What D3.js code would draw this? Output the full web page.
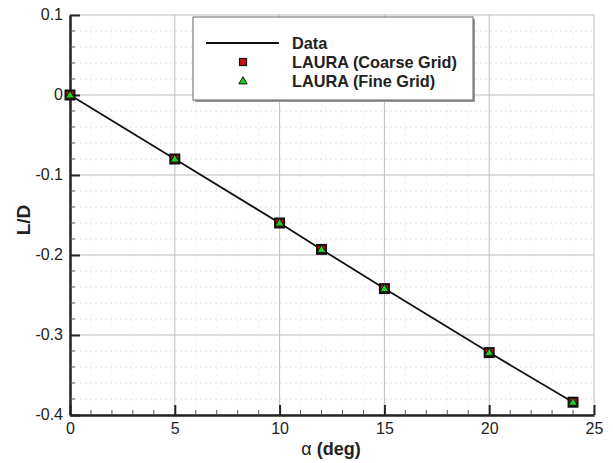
<!DOCTYPE html>
<html><head><meta charset="utf-8">
<script src="https://cdn.jsdelivr.net/npm/d3@7"></script>
<style>body{margin:0;background:#fff}</style>
</head><body>
<svg id="c" width="613" height="463"></svg>
<script>
const alpha = [0, 5, 10, 12, 15, 20, 24];
const ldData = [0, -0.08, -0.16, -0.193, -0.242, -0.322, -0.384];
const coarseLD = [0, -0.08, -0.16, -0.193, -0.242, -0.322, -0.384];
const fineLD = [0, -0.08, -0.16, -0.193, -0.242, -0.322, -0.384];
const xTicks = [0, 5, 10, 15, 20, 25];
const yTicks = [0.1, 0, -0.1, -0.2, -0.3, -0.4];
const yTickLabels = ["0.1", "0", "-0.1", "-0.2", "-0.3", "-0.4"];
const legendLabels = ["Data", "LAURA (Coarse Grid)", "LAURA (Fine Grid)"];

const svg = d3.select("#c");
const L = 70, R = 594, T = 15, B = 415;
const x = d3.scaleLinear().domain([0, 25]).range([L, R]);
const y = d3.scaleLinear().domain([-0.4, 0.1]).range([B, T]);
const font = "Liberation Sans, Arial, sans-serif";

// minor grid (dotted)
const xMinor = d3.range(0, 25.01, 1).filter(v => v % 5 !== 0);
const yMinor = d3.range(-0.4, 0.1001, 0.02).map(v => +v.toFixed(2)).filter(v => Math.abs(Math.round(v*10) - v*10) > 1e-6);
svg.append("g").selectAll("line").data(xMinor).join("line")
  .attr("x1", d => x(d)).attr("x2", d => x(d)).attr("y1", T).attr("y2", B)
  .attr("stroke", "#e2e2e2").attr("stroke-width", 1).attr("stroke-dasharray", "1,5");
svg.append("g").selectAll("line").data(yMinor).join("line")
  .attr("x1", L).attr("x2", R).attr("y1", d => y(d)).attr("y2", d => y(d))
  .attr("stroke", "#e2e2e2").attr("stroke-width", 1).attr("stroke-dasharray", "2,3");
// major grid
svg.append("g").selectAll("line").data(xTicks).join("line")
  .attr("x1", d => x(d)).attr("x2", d => x(d)).attr("y1", T).attr("y2", B)
  .attr("stroke", "#bdbdbd").attr("stroke-width", 1);
svg.append("g").selectAll("line").data(yTicks).join("line")
  .attr("x1", L).attr("x2", R).attr("y1", d => y(d)).attr("y2", d => y(d))
  .attr("stroke", "#bdbdbd").attr("stroke-width", 1);

// axes
const xAxis = d3.axisBottom(x).tickValues(xTicks).tickFormat(d3.format("d")).tickSizeInner(-10).tickSizeOuter(0).tickPadding(7);
const gx = svg.append("g").attr("transform", `translate(0,${B})`).call(xAxis);
const yAxis = d3.axisLeft(y).tickValues(yTicks).tickFormat((d, i) => yTickLabels[i]).tickSizeInner(-10).tickSizeOuter(0).tickPadding(7);
const gy = svg.append("g").attr("transform", `translate(${L},0)`).call(yAxis);
[gx, gy].forEach(g => {
  g.select(".domain").attr("stroke", "#222").attr("stroke-width", 2.5);
  g.selectAll(".tick line").attr("stroke", "#222").attr("stroke-width", 2);
  g.selectAll("text").attr("font-family", font).attr("font-size", 16).attr("fill", "#222");
});
gy.selectAll("text").attr("dy", "0.3em");
gx.selectAll("text").attr("dy", "0.75em");
// minor ticks
svg.append("g").selectAll("line").data(xMinor).join("line")
  .attr("x1", d => x(d)).attr("x2", d => x(d)).attr("y1", B).attr("y2", B - 5)
  .attr("stroke", "#555").attr("stroke-width", 1);
svg.append("g").selectAll("line").data(yMinor).join("line")
  .attr("x1", L).attr("x2", L + 5).attr("y1", d => y(d)).attr("y2", d => y(d))
  .attr("stroke", "#555").attr("stroke-width", 1);

// axis titles
svg.append("text").attr("x", 331).attr("y", 455).attr("text-anchor", "middle")
  .attr("font-family", font).attr("font-size", 18).attr("font-weight", "bold").attr("fill", "#222")
  .html('<tspan font-weight="normal">α</tspan> (deg)');
svg.append("text").attr("transform", `translate(23,220) rotate(-90)`).attr("text-anchor", "middle")
  .attr("font-family", font).attr("font-size", 19).attr("font-weight", "bold").attr("fill", "#222")
  .attr("dy", "0.35em").text("L/D");

// data line
const pts = alpha.map((a, i) => [a, ldData[i]]);
svg.append("path").datum(pts)
  .attr("d", d3.line().x(d => x(d[0])).y(d => y(d[1])))
  .attr("fill", "none").attr("stroke", "#111").attr("stroke-width", 1.8);

// markers
const sq = 9;
svg.append("g").selectAll("rect").data(alpha.map((a, i) => [a, coarseLD[i]])).join("rect")
  .attr("x", d => x(d[0]) - sq / 2).attr("y", d => y(d[1]) - sq / 2).attr("width", sq).attr("height", sq)
  .attr("fill", "#cc1111").attr("stroke", "#111").attr("stroke-width", 2);
const tri = d3.symbol().type(d3.symbolTriangle).size(34);
svg.append("g").selectAll("path").data(alpha.map((a, i) => [a, fineLD[i]])).join("path")
  .attr("d", tri).attr("transform", d => `translate(${x(d[0])},${y(d[1]) + 0.5})`)
  .attr("fill", "#22cc22").attr("stroke", "#111").attr("stroke-width", 1);

// legend
const lg = svg.append("g");
lg.append("rect").attr("x", 195).attr("y", 19).attr("width", 280).attr("height", 83).attr("fill", "#999");
lg.append("rect").attr("x", 193).attr("y", 17).attr("width", 280).attr("height", 83)
  .attr("fill", "#fff").attr("stroke", "#666").attr("stroke-width", 1);
const rows = [43, 62, 81];
lg.append("line").attr("x1", 206).attr("x2", 279).attr("y1", rows[0]).attr("y2", rows[0]).attr("stroke", "#111").attr("stroke-width", 1.8);
lg.append("rect").attr("x", 243 - 3.5).attr("y", rows[1] - 3.5).attr("width", 7).attr("height", 7)
  .attr("fill", "#cc1111").attr("stroke", "#111").attr("stroke-width", 1.2);
lg.append("path").attr("d", d3.symbol().type(d3.symbolTriangle).size(30)).attr("transform", `translate(243,${rows[2] + 0.5})`)
  .attr("fill", "#22cc22").attr("stroke", "#111").attr("stroke-width", 1);
lg.selectAll("text").data(legendLabels).join("text")
  .attr("x", 292).attr("y", (d, i) => rows[i] + 6)
  .attr("font-family", font).attr("font-size", 16.3).attr("font-weight", "bold").attr("fill", "#222")
  .text(d => d);
</script>
</body></html>
